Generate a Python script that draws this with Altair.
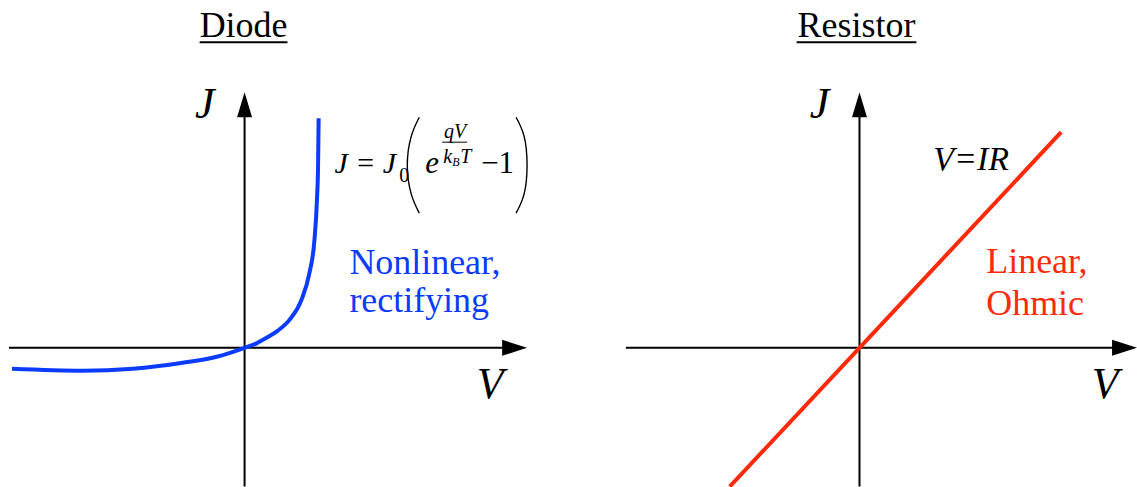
import altair as alt
import pandas as pd

# Panel geometry (pixels) and data-space domains; V and J are in arbitrary units
W_LEFT, W_RIGHT, H = 568, 569, 487
Y_DOM = [-1.39, 3.48]
LEFT_X_DOM = [-2.45, 3.23]
RIGHT_X_DOM = [-2.93, 2.76]

SERIF = "Liberation Serif"
BLUE = "#0a3bff"
RED = "#ff2a0a"

# Diode J-V characteristic
diode_v = [-2.33, -1.62, -1.12, -0.62, -0.28, 0.0, 0.12, 0.22, 0.33, 0.45, 0.57, 0.65, 0.70, 0.725, 0.736, 0.742]
diode_j = [-0.21, -0.23, -0.21, -0.15, -0.09, 0.0, 0.045, 0.10, 0.17, 0.28, 0.48, 0.75, 1.08, 1.48, 1.81, 2.30]

# Resistor (Ohmic) J-V line
resistor_v = [-1.30, 0.0, 2.02]
resistor_j = [-1.39, 0.0, 2.16]

# Coordinate axes: [start, end of shaft], arrow head centre
left_h_axis = [-2.36, 2.70]
left_h_head = 2.705
right_h_axis = [-2.34, 2.65]
right_h_head = 2.655
v_axis = [-1.39, 2.35]
v_head = 2.435

# Big parentheses around the exponential term
paren_left_v = [1.75, 1.67, 1.63, 1.67, 1.75]
paren_right_v = [2.72, 2.80, 2.83, 2.80, 2.72]
paren_j = [2.31, 2.12, 1.83, 1.54, 1.35]

H_ARROW = "M-1,-0.64L1,0L-1,0.64Z"
V_ARROW = "M-0.6,1L0,-1L0.6,1Z"


def enc(xdom):
    return (
        alt.X("v:Q", scale=alt.Scale(domain=xdom, nice=False, zero=False), axis=None),
        alt.Y("j:Q", scale=alt.Scale(domain=Y_DOM, nice=False, zero=False), axis=None),
    )


def text_layer(xdom, texts, vs, js, size, italic=False, color="black",
               align="left", baseline="alphabetic"):
    df = pd.DataFrame({"t": texts, "v": vs, "j": js})
    x, y = enc(xdom)
    return alt.Chart(df).mark_text(
        font=SERIF, fontSize=size, fontStyle="italic" if italic else "normal",
        color=color, align=align, baseline=baseline,
    ).encode(x=x, y=y, text="t:N")


def segment_layer(xdom, v1, j1, v2, j2, width=2, color="black"):
    df = pd.DataFrame({"v": v1, "j": j1, "v2": v2, "j2": j2})
    x, y = enc(xdom)
    return alt.Chart(df).mark_rule(color=color, strokeWidth=width).encode(
        x=x, y=y, x2="v2:Q", y2="j2:Q"
    )


def head_layer(xdom, vs, js, shape):
    df = pd.DataFrame({"v": vs, "j": js})
    x, y = enc(xdom)
    return alt.Chart(df).mark_point(
        shape=shape, size=625, filled=True, color="black", opacity=1, strokeWidth=0
    ).encode(x=x, y=y)


def curve_layer(xdom, vs, js, color, width, interp):
    df = pd.DataFrame({"v": vs, "j": js, "i": list(range(len(vs)))})
    x, y = enc(xdom)
    return alt.Chart(df).mark_line(
        color=color, strokeWidth=width, interpolate=interp, strokeCap="butt"
    ).encode(x=x, y=y, order="i:Q")


def axes_layers(xdom, h_axis, h_head):
    return [
        segment_layer(xdom, [h_axis[0], 0.0], [0.0, v_axis[0]], [h_axis[1], 0.0], [0.0, v_axis[1]]),
        head_layer(xdom, [h_head], [0.0], H_ARROW),
        head_layer(xdom, [0.0], [v_head], V_ARROW),
        text_layer(xdom, ["J"], [-0.40], [2.43], 44, italic=True, align="center", baseline="middle"),
        text_layer(xdom, ["V"], [2.46], [-0.37], 44, italic=True, align="center", baseline="middle"),
    ]


# ---- Diode panel ----
L = LEFT_X_DOM
left = alt.layer(
    *axes_layers(L, left_h_axis, left_h_head),
    text_layer(L, ["Diode"], [-0.01], [3.11], 36, align="center"),
    segment_layer(L, [-0.45], [3.06], [0.43], [3.06], width=2),
    curve_layer(L, diode_v, diode_j, BLUE, 4, "monotone"),
    # J = J0 (exp(qV / kB T) - 1)
    text_layer(L, ["J = J"], [0.90], [1.75], 30, italic=True),
    text_layer(L, ["0"], [1.55], [1.66], 20),
    text_layer(L, ["e"], [1.81], [1.75], 31, italic=True),
    text_layer(L, ["qV"], [2.11], [2.10], 20, italic=True, align="center"),
    segment_layer(L, [1.98], [2.06], [2.23], [2.06], width=1),
    text_layer(L, ["k", "T"], [1.99, 2.16], [1.85, 1.85], 20, italic=True),
    text_layer(L, ["B"], [2.08], [1.82], 12, italic=True),
    text_layer(L, ["\u22121"], [2.37], [1.75], 31),
    curve_layer(L, paren_left_v, paren_j, "black", 1.4, "natural"),
    curve_layer(L, paren_right_v, paren_j, "black", 1.4, "natural"),
    text_layer(L, ["Nonlinear,", "rectifying"], [1.05, 1.05], [0.74, 0.36], 36, color=BLUE),
).properties(width=W_LEFT, height=H)

# ---- Resistor panel ----
R = RIGHT_X_DOM
right = alt.layer(
    *axes_layers(R, right_h_axis, right_h_head),
    text_layer(R, ["Resistor"], [-0.03], [3.11], 36, align="center"),
    segment_layer(R, [-0.63], [3.06], [0.57], [3.06], width=2),
    curve_layer(R, resistor_v, resistor_j, RED, 4, "linear"),
    text_layer(R, ["V=IR"], [0.74], [1.78], 34, italic=True),
    text_layer(R, ["Linear,", "Ohmic"], [1.27, 1.27], [0.75, 0.33], 36, color=RED),
).properties(width=W_RIGHT, height=H)

chart = (
    alt.hconcat(left, right, spacing=0)
    .properties(padding=0, background="white")
    .configure_view(stroke=None)
)

chart.save("out.html", embed_options={"renderer": "svg", "actions": False})
